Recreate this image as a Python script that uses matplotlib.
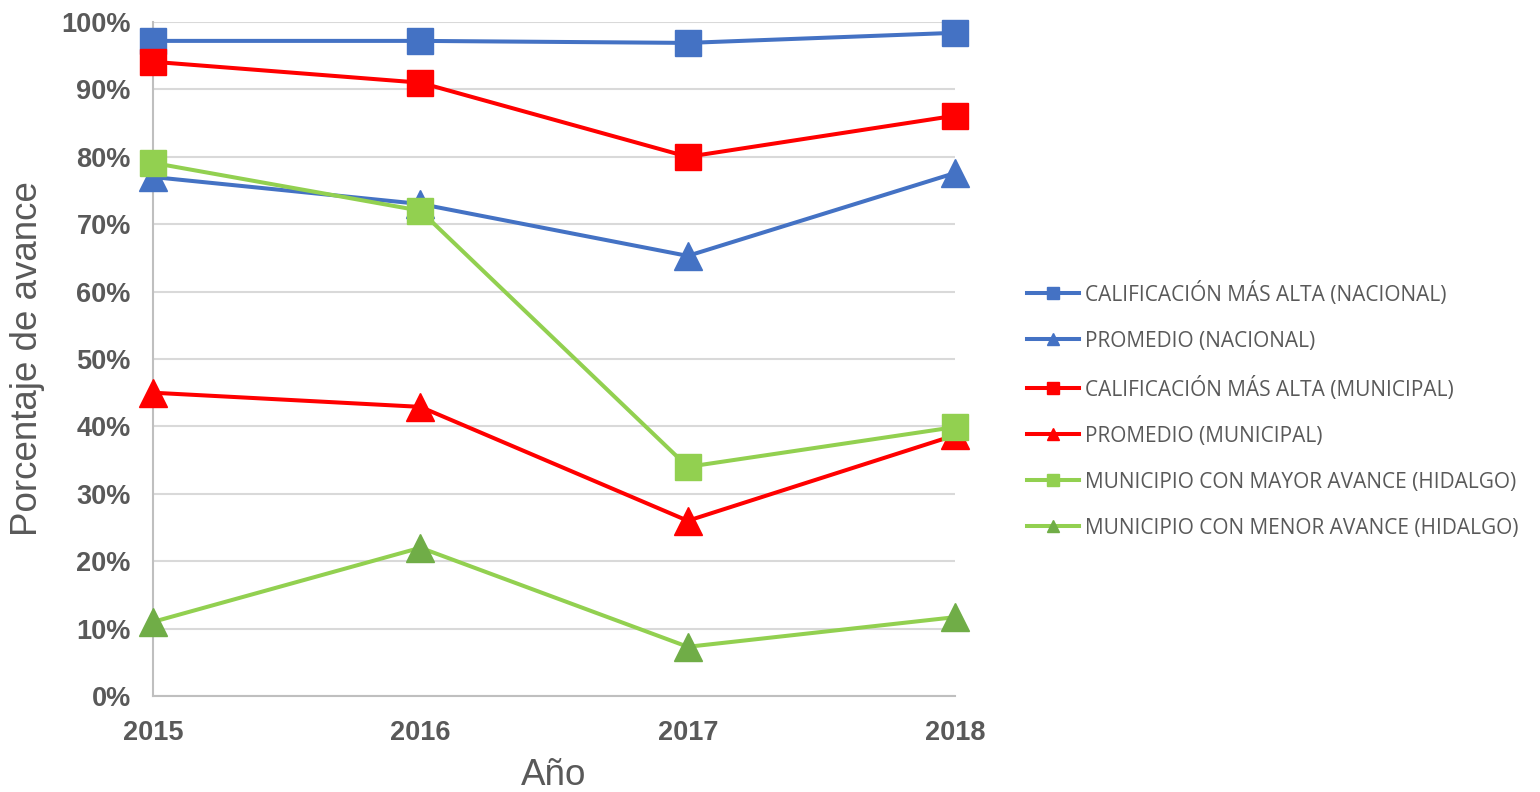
import matplotlib.pyplot as plt
from matplotlib.ticker import FuncFormatter

anios = [2015, 2016, 2017, 2018]

cal_alta_nacional = [97.2, 97.2, 96.9, 98.4]
promedio_nacional = [77.0, 73.0, 65.3, 77.6]
cal_alta_municipal = [94.1, 91.0, 80.0, 86.1]
promedio_municipal = [45.0, 42.9, 26.0, 38.7]
mayor_avance_hidalgo = [79.1, 72.0, 34.0, 39.9]
menor_avance_hidalgo = [11.0, 22.0, 7.3, 11.7]

etiquetas = [
    'CALIFICACIÓN MÁS ALTA (NACIONAL)',
    'PROMEDIO (NACIONAL)',
    'CALIFICACIÓN MÁS ALTA (MUNICIPAL)',
    'PROMEDIO (MUNICIPAL)',
    'MUNICIPIO CON MAYOR AVANCE (HIDALGO)',
    'MUNICIPIO CON MENOR AVANCE (HIDALGO)',
]

azul = '#4472C4'
rojo = '#FF0000'
verde = '#92D050'
verde_osc = '#70AD47'
gris = '#595959'

plt.rcParams['font.family'] = ['Liberation Sans', 'DejaVu Sans']

fig = plt.figure(figsize=(15.4, 7.92), dpi=100)
ax = fig.add_axes([0.0994, 0.1212, 0.5208, 0.851])

series = [
    (cal_alta_nacional, azul, 's', azul),
    (promedio_nacional, azul, '^', azul),
    (cal_alta_municipal, rojo, 's', rojo),
    (promedio_municipal, rojo, '^', rojo),
    (mayor_avance_hidalgo, verde, 's', verde),
    (menor_avance_hidalgo, verde, '^', verde_osc),
]

for (vals, col, mk, mcol), lab in zip(series, etiquetas):
    ms = 19 if mk == 's' else 20
    ax.plot(anios, vals, color=col, linewidth=2.9, marker=mk, markersize=ms,
            markerfacecolor=mcol, markeredgecolor=mcol, label=lab, clip_on=False,
            zorder=3)

ax.set_xlim(2015, 2018)
ax.set_ylim(0, 100)
ax.set_xticks(anios)
ax.set_yticks(range(0, 101, 10))
ax.yaxis.set_major_formatter(FuncFormatter(lambda v, p: f'{int(v)}%'))

ax.grid(axis='y', color='#D9D9D9', linewidth=1.5)
ax.set_axisbelow(True)
for s in ['top', 'right']:
    ax.spines[s].set_visible(False)
for s in ['left', 'bottom']:
    ax.spines[s].set_color('#BFBFBF')
    ax.spines[s].set_linewidth(1.5)
ax.tick_params(length=0, labelcolor=gris)
ax.tick_params(axis='x', pad=17)
ax.tick_params(axis='y', pad=16)
for t in ax.get_xticklabels() + ax.get_yticklabels():
    t.set_fontsize(19.5)
    t.set_fontweight('bold')

ax.set_ylabel('Porcentaje de avance', fontsize=26.5, color=gris, labelpad=12)
ax.set_xlabel('Año', fontsize=26.5, color=gris, labelpad=9)

leg = fig.legend(loc='center left', bbox_to_anchor=(0.6545, 0.482), frameon=False,
                 prop={'family': 'Open Sans', 'size': 15}, markerscale=0.45,
                 handlelength=2.5, handletextpad=0.3, labelspacing=1.2)
for t in leg.get_texts():
    t.set_color(gris)

fig.savefig('out.png', dpi=100)
